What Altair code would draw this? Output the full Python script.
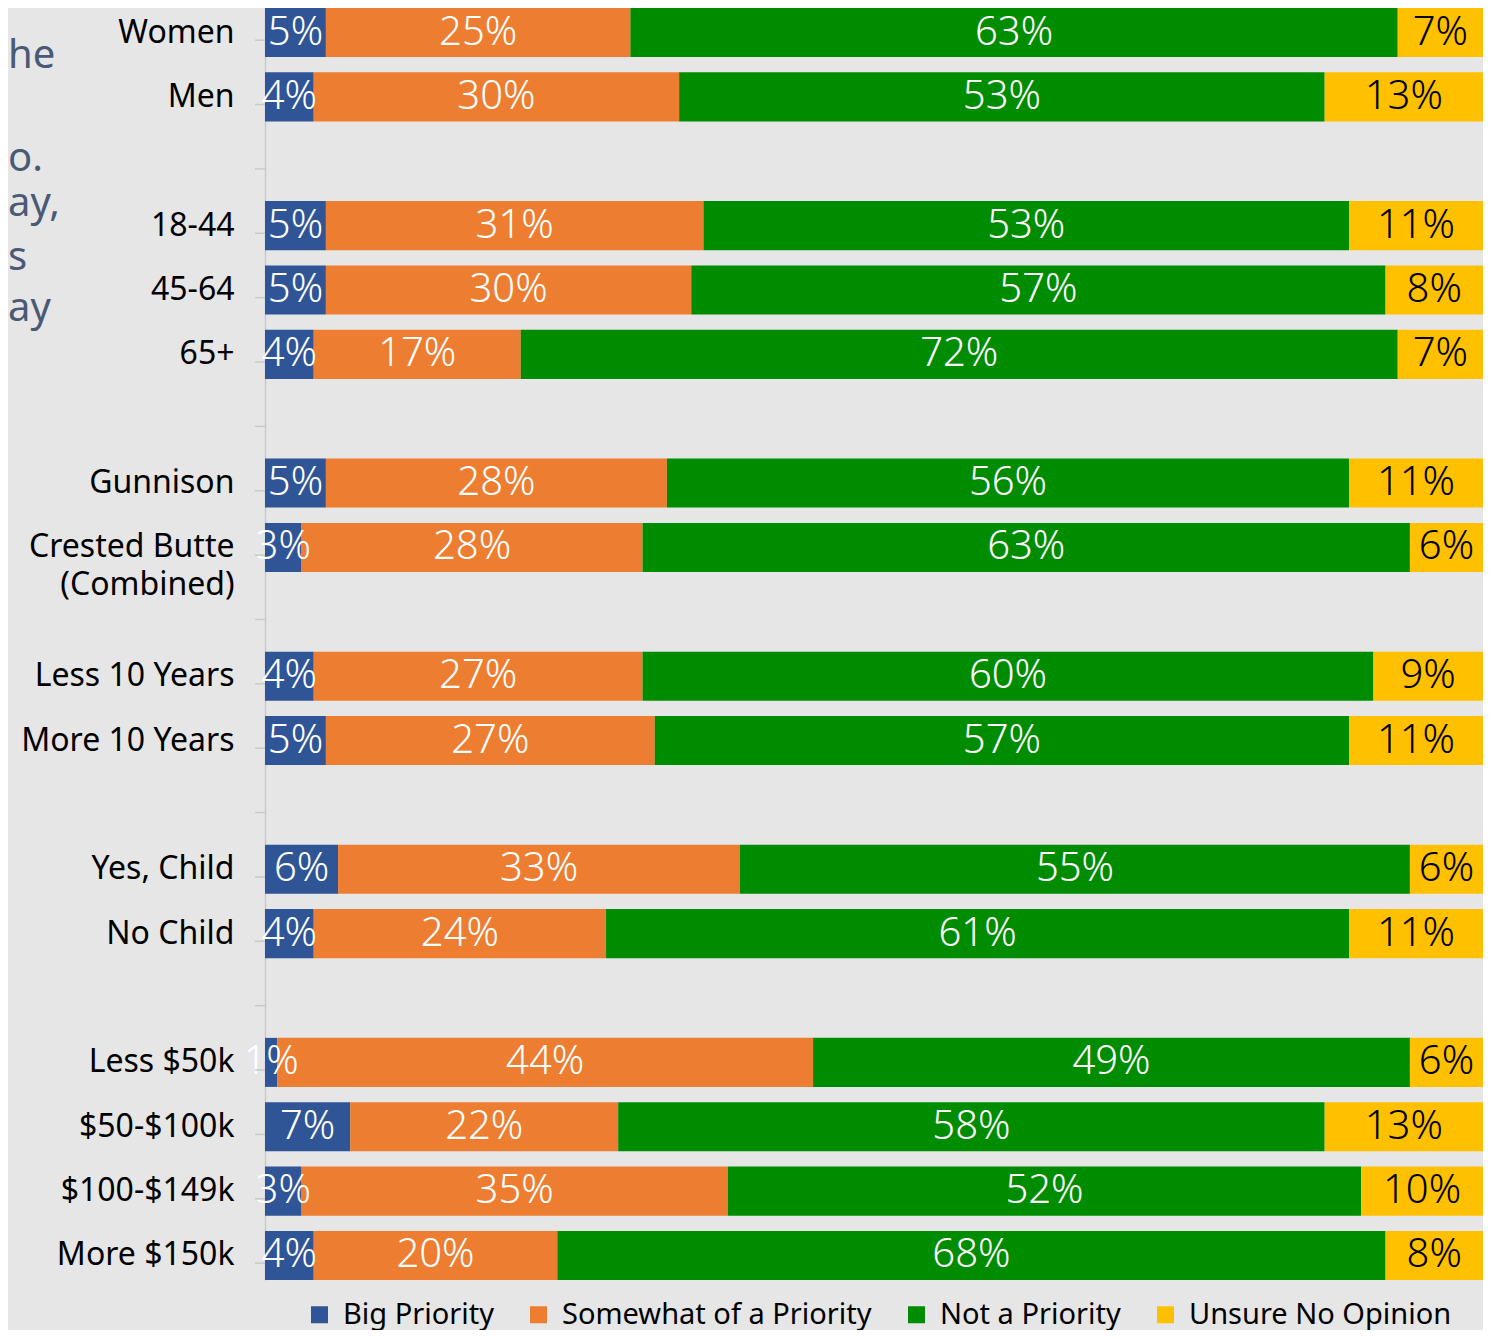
import altair as alt
import pandas as pd

rows = ["Women", "Men", "_gap1", "18-44", "45-64", "65+", "_gap2",
        "Gunnison", "Crested Butte|(Combined)", "_gap3",
        "Less 10 Years", "More 10 Years", "_gap4",
        "Yes, Child", "No Child", "_gap5",
        "Less $50k", "$50-$100k", "$100-$149k", "More $150k"]

groups = ["Women", "Men", "18-44", "45-64", "65+", "Gunnison",
          "Crested Butte|(Combined)", "Less 10 Years", "More 10 Years",
          "Yes, Child", "No Child", "Less $50k", "$50-$100k", "$100-$149k",
          "More $150k"]

categories = ["Big Priority", "Somewhat of a Priority", "Not a Priority", "Unsure No Opinion"]
colors = ["#2F5597", "#ED7D31", "#008C00", "#FFC000"]

big_priority = [5, 4, 5, 5, 4, 5, 3, 4, 5, 6, 4, 1, 7, 3, 4]
somewhat_priority = [25, 30, 31, 30, 17, 28, 28, 27, 27, 33, 24, 44, 22, 35, 20]
not_priority = [63, 53, 53, 57, 72, 56, 63, 60, 57, 55, 61, 49, 58, 52, 68]
unsure = [7, 13, 11, 8, 7, 11, 6, 9, 11, 6, 11, 6, 13, 10, 8]

# cut-off fragments of the slide's text visible at the far left
frag_text = ["he", "o.", "ay,", "s", "ay"]

series = [big_priority, somewhat_priority, not_priority, unsure]
recs = []
for ci, (cat, vals) in enumerate(zip(categories, series)):
    for g, v in zip(groups, vals):
        recs.append({"row": g, "cat": cat, "k": ci, "pct": v})
df = pd.DataFrame(recs)

FONT = "Noto Sans"
PLOT_H = 1272
P_INNER = 0.238
HALF_STEP = PLOT_H / (len(rows) - P_INNER) / 2
AXIS_GRAY = "#c9c9c9"

base = alt.Chart(df).transform_window(
    cum="sum(pct)", groupby=["row"], sort=[alt.SortField("k")]
).transform_calculate(
    x0="datum.cum - datum.pct", mid="datum.cum - datum.pct / 2", label="datum.pct + '%'"
)

y_scale = alt.Scale(domain=rows, paddingInner=P_INNER, paddingOuter=0)

y_enc = alt.Y(
    "row:N",
    scale=y_scale,
    axis=alt.Axis(
        title=None,
        labelExpr="indexof(datum.value, '_gap') == 0 ? '' : split(datum.value, '|')",
        labelFont=FONT, labelFontSize=32, labelColor="#000000",
        labelLineHeight=38, labelPadding=31, ticks=False,
        domainColor=AXIS_GRAY, domainWidth=1.5, grid=False, labelLimit=400,
        minExtent=257, maxExtent=257,
    ),
)

x_scale = alt.Scale(domain=[0, 100], nice=False)

bars = base.mark_bar().encode(
    x=alt.X("x0:Q", scale=x_scale, axis=None),
    x2="cum:Q",
    y=y_enc,
    color=alt.Color(
        "cat:N",
        scale=alt.Scale(domain=categories, range=colors),
        legend=alt.Legend(title=None, orient="none", legendX=40, legendY=1292,
                          direction="horizontal",
                          symbolType="square", symbolSize=289,
                          labelFont=FONT, labelFontSize=29, labelColor="#000000",
                          labelOffset=9, columnPadding=30, labelLimit=500),
    ),
)

labels = base.mark_text(font=FONT, fontSize=40, fontWeight=300, baseline="middle", align="center").encode(
    x=alt.X("mid:Q", scale=x_scale, axis=None),
    y=alt.Y("row:N"),
    text="label:N",
    color=alt.condition("datum.cat == 'Unsure No Opinion'", alt.value("#000000"), alt.value("#ffffff")),
)

# category-axis ticks drawn between rows (at band boundaries)
rows_df = pd.DataFrame({"row": rows[1:]})
ticks_top = alt.Chart(rows_df).mark_rule(color=AXIS_GRAY, strokeWidth=1.5).encode(
    y=alt.Y("row:N"), yOffset=alt.value(-HALF_STEP),
    x=alt.value(-10), x2=alt.value(0),
)
ticks_bottom = alt.Chart(pd.DataFrame({"row": rows[-1:]})).mark_rule(color=AXIS_GRAY, strokeWidth=1.5).encode(
    y=alt.Y("row:N"), yOffset=alt.value(HALF_STEP),
    x=alt.value(-10), x2=alt.value(0),
)

frag_y = [60, 163, 208, 262, 313]
frag_layers = [
    alt.Chart(pd.DataFrame({"t": [t]})).mark_text(
        font=FONT, fontSize=40, align="left", baseline="alphabetic", color="#4a5a75"
    ).encode(text="t:N", x=alt.value(-257), y=alt.value(fy))
    for t, fy in zip(frag_text, frag_y)
]

chart = alt.layer(bars, labels, ticks_top, ticks_bottom, *frag_layers).properties(
    width=1218, height=PLOT_H,
    background="#e6e6e6",
    padding=0,
).configure_view(stroke=None)

chart.save("out.html", embed_options={"renderer": "svg", "actions": False})
